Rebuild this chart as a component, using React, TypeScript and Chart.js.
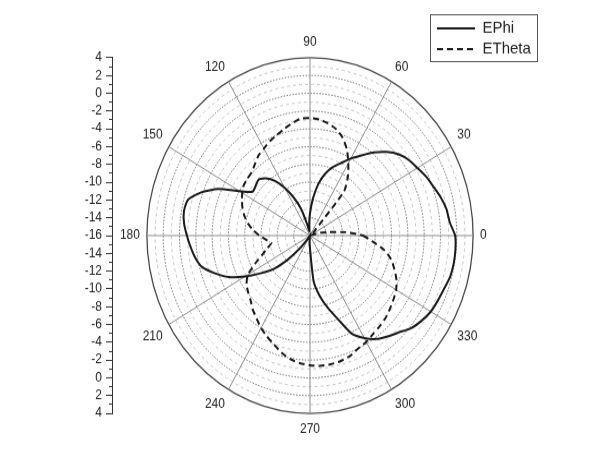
import React, { useEffect, useRef } from 'react';
import { Chart, registerables } from 'chart.js';

Chart.register(...registerables);

// Angles (degrees, counter-clockwise from the right)
const ANGLES = [
  0, 5, 10, 15, 20, 25, 30, 35, 40, 45, 50, 55,
  60, 65, 70, 75, 80, 85, 90, 95, 100, 105, 110, 115,
  120, 125, 130, 135, 140, 145, 150, 155, 160, 165, 170, 175,
  180, 185, 190, 195, 200, 205, 210, 215, 220, 225, 230, 235,
  240, 245, 250, 255, 260, 265, 270, 275, 280, 285, 290, 295,
  300, 305, 310, 315, 320, 325, 330, 335, 340, 345, 350, 355,
];

const LABELED_ANGLES = [0, 30, 60, 90, 120, 150, 180, 210, 240, 270, 300, 330];

const EPHI = [
  1.8, 1.2, 1.0, 0.6, 0.1, -0.3, -0.8, -1.2, -1.8, -2.7, -3.8, -5.0,
  -6.0, -7.0, -7.8, -8.8, -10.1, -11.8, -13.5, -14.8, -15.5, -14.7, -12.8, -11.3,
  -9.8, -8.5, -7.6, -7.1, -7.3, -7.4, -6.0, -3.6, -1.8, -0.5, -0.3, -0.5,
  -0.9, -1.3, -1.7, -2.3, -3.6, -5.0, -6.8, -8.6, -10.1, -12.3, -14.4, -15.6,
  -16, -16, -16, -16, -16, -15.3, -14.5, -10.8, -9.1, -7.6, -6.0, -3.8,
  -2.7, -1.8, -1.2, -0.6, 0.2, 0.7, 1.1, 1.3, 1.5, 1.8, 1.9, 1.9,
];

const ETHETA = [
  -9.5, -11.6, -13.8, -14.8, -16, -16, -16, -16, -15.5, -15.0, -9.5, -7.9,
  -6.6, -5.3, -4.3, -3.6, -3.2, -2.9, -2.8, -2.8, -3.2, -3.6, -4.0, -4.3,
  -4.7, -5.0, -5.5, -5.9, -6.0, -6.1, -6.4, -6.8, -7.2, -7.7, -8.3, -9.0,
  -9.8, -10.6, -11.2, -10.6, -9.8, -8.6, -7.2, -6.5, -6.1, -5.7, -5.1, -4.6,
  -4.0, -3.5, -3.0, -2.4, -1.9, -1.6, -1.4, -1.3, -1.3, -1.4, -1.6, -2.0,
  -2.2, -2.5, -2.7, -2.9, -3.2, -3.5, -3.8, -4.3, -5.0, -5.7, -6.8, -8.3,
];

const SERIES_NAMES = ['EPhi', 'ETheta'];

const R_MIN = -16;
const R_MAX = 4;
const LEFT_AXIS_MIN = -20;
const LEFT_AXIS_MAX = 20;

const FONT = "'Liberation Sans', Arial, sans-serif";
const W = 616;
const H_BUF = 431;
const H_CSS = 470;

export default function App() {
  const ref = useRef<HTMLCanvasElement>(null);

  useEffect(() => {
    const canvas = ref.current;
    if (!canvas) return;
    const n = ANGLES.length;
    // radar goes clockwise from startAngle; reorder so angles run counter-clockwise
    const order = ANGLES.map((_, i) => (n - i) % n);
    const labels = order.map((k) => String(ANGLES[k]));
    const ephi = order.map((k) => EPHI[k]);
    const etheta = order.map((k) => ETHETA[k]);

    const layoutFix = {
      id: 'layoutFix',
      afterLayout(chart: any) {
        const r = chart.scales.r;
        const top = r.yCenter - r.drawingArea;
        const bottom = r.yCenter + r.drawingArea;
        for (const id of ['y', 'yMinor']) {
          const s = chart.scales[id];
          if (!s) continue;
          s.left = 72;
          s.right = 112;
          s.width = 40;
          s.top = top;
          s.bottom = bottom;
          s.height = bottom - top;
          s.configure();
        }
        const lg = chart.legend;
        if (lg) {
          const w = lg.width;
          const h = lg.height;
          lg.left = 433;
          lg.top = 14.5;
          lg.right = 433 + w;
          lg.bottom = 14.5 + h;
        }
      },
      afterDraw(chart: any) {
        const lg = chart.legend;
        if (!lg) return;
        const ctx = chart.ctx;
        ctx.save();
        ctx.strokeStyle = '#555';
        ctx.lineWidth = 1;
        ctx.setLineDash([]);
        ctx.strokeRect(Math.round(lg.left - 3) + 0.5, Math.round(lg.top - 1.5) + 0.5, 107, 43);
        ctx.restore();
      },
    };

    const isLabeled = (idx: number) => LABELED_ANGLES.includes(Number(labels[idx]));

    const chart = new Chart(canvas, {
      type: 'radar',
      data: {
        labels,
        datasets: [
          {
            label: SERIES_NAMES[0],
            data: ephi,
            borderColor: '#1a1a1a',
            backgroundColor: 'rgba(0,0,0,0)',
            borderWidth: 2,
            pointRadius: 0,
            fill: false,
            tension: 0.2,
          },
          {
            label: SERIES_NAMES[1],
            data: etheta,
            borderColor: '#1a1a1a',
            backgroundColor: 'rgba(0,0,0,0)',
            borderWidth: 2,
            borderDash: [6, 4],
            pointRadius: 0,
            fill: false,
            tension: 0.2,
          },
        ],
      },
      options: {
        responsive: false,
        animation: false,
        devicePixelRatio: 1,
        layout: { padding: { left: 55, right: 91, top: 31.5, bottom: 30.5 } },
        plugins: {
          tooltip: { enabled: false },
          legend: {
            position: 'chartArea',
            align: 'start',
            labels: {
              usePointStyle: true,
              pointStyle: 'line',
              pointStyleWidth: 38,
              padding: 4,
              color: '#222',
              font: { family: FONT, size: 15 },
              generateLabels: (c: any) =>
                (Chart.defaults.plugins.legend.labels.generateLabels as any)(c).map((it: any, i: number) => ({
                  ...it,
                  lineDash: c.data.datasets[i].borderDash || [],
                  lineWidth: 2,
                  strokeStyle: '#1a1a1a',
                  fillStyle: 'rgba(0,0,0,0)',
                })),
            },
          },
        },
        scales: {
          r: {
            min: R_MIN,
            max: R_MAX,
            startAngle: 90,
            ticks: { display: false, stepSize: 1 },
            grid: {
              circular: true,
              lineWidth: (ctx: any) => (ctx.tick && ctx.tick.value === R_MAX ? 1.3 : 1),
              color: (ctx: any) => {
                const v = ctx.tick ? ctx.tick.value : 0;
                if (v === R_MAX) return '#4a4a4a';
                return Math.abs(v) % 2 === 0 ? '#6f6f6f' : '#c4c4c4';
              },
            },
            border: {
              dash: (ctx: any) => {
                const v = ctx.tick ? ctx.tick.value : 0;
                if (v === R_MAX) return [];
                return Math.abs(v) % 2 === 0 ? [1.5, 1.5] : [3, 3];
              },
            },
            angleLines: {
              color: (ctx: any) => (isLabeled(ctx.index) ? '#8c8c8c' : 'rgba(0,0,0,0)'),
              lineWidth: (ctx: any) => (isLabeled(ctx.index) ? 1 : 0),
            },
            pointLabels: {
              display: true,
              padding: 7,
              color: '#222',
              font: { family: FONT, size: 12 },
              callback: (label: string) => (LABELED_ANGLES.includes(Number(label)) ? label : ''),
            },
          },
          y: {
            type: 'linear',
            position: 'left',
            min: LEFT_AXIS_MIN,
            max: LEFT_AXIS_MAX,
            ticks: {
              stepSize: 2,
              autoSkip: false,
              padding: 4,
              color: '#222',
              font: { family: FONT, size: 12 },
              callback: (v: any) => String(Math.abs(Number(v)) + R_MIN),
            },
            grid: { drawOnChartArea: false, drawTicks: true, tickLength: 6, color: '#333', lineWidth: 1 },
            border: { display: true, color: '#333', width: 1 },
            afterFit: (s: any) => {
              s.width = 40;
            },
          },
          yMinor: {
            type: 'linear',
            position: 'left',
            min: LEFT_AXIS_MIN,
            max: LEFT_AXIS_MAX,
            ticks: { display: false, stepSize: 1, autoSkip: false },
            grid: { drawOnChartArea: false, drawTicks: true, tickLength: 3, color: '#333', lineWidth: 1 },
            border: { display: false },
            afterFit: (s: any) => {
              s.width = 0;
            },
          },
        },
      } as any,
      plugins: [layoutFix as any],
    });

    return () => chart.destroy();
  }, []);

  return (
    <div style={{ position: 'fixed', left: 0, top: 0, width: W, height: H_CSS, background: '#fff' }}>
      <canvas
        ref={ref}
        width={W}
        height={H_BUF}
        style={{ width: `${W}px`, height: `${H_CSS}px`, display: 'block' }}
      />
    </div>
  );
}
